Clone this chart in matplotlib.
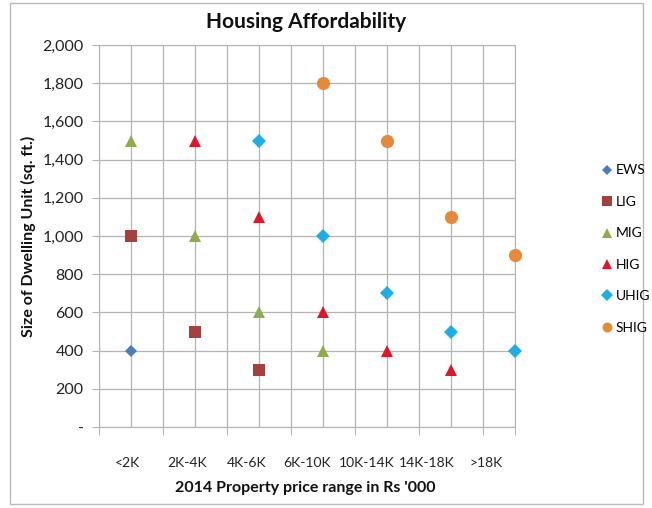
import matplotlib
matplotlib.use("Agg")
import matplotlib.pyplot as plt
from matplotlib.patches import Rectangle
import numpy as np

plt.rcParams['font.family'] = ['Lato', 'DejaVu Sans']

categories = ['<2K', '2K-4K', '4K-6K', '6K-10K', '10K-14K', '14K-18K', '>18K']
series_names = ['EWS', 'LIG', 'MIG', 'HIG', 'UHIG', 'SHIG']
EWS = [400, None, None, None, None, None, None]
LIG = [1000, 500, 300, None, None, None, None]
MIG = [1500, 1000, 600, 400, None, None, None]
HIG = [None, 1500, 1100, 600, 400, 300, None]
UHIG = [None, None, 1500, 1000, 700, 500, 400]
SHIG = [None, None, None, 1800, 1500, 1100, 900]
yticks = [0, 200, 400, 600, 800, 1000, 1200, 1400, 1600, 1800, 2000]
ytick_labels = ['-', '200', '400', '600', '800', '1,000', '1,200', '1,400', '1,600', '1,800', '2,000']

series = [EWS, LIG, MIG, HIG, UHIG, SHIG]
styles = [
    dict(marker='D', color='#4A7EBB', ms=6.5),
    dict(marker='s', color='#A5403C', ms=9),
    dict(marker='^', color='#8DAE4B', ms=9),
    dict(marker='^', color='#E0162B', ms=9),
    dict(marker='D', color='#1CAEE4', ms=7.5),
    dict(marker='o', color='#E8893A', ms=9.5),
]

fig = plt.figure(figsize=(6.52, 5.08), dpi=100)
ax = fig.add_axes([99/652, 1-427/508, (515-99)/652, (427-45)/508])

grid_c = '#B4B4B4'
for name, vals, st in zip(series_names, series, styles):
    xs = [i + 0.5 for i, v in enumerate(vals) if v is not None]
    ys = [v for v in vals if v is not None]
    ax.plot(xs, ys, linestyle='none', marker=st['marker'], color=st['color'],
            markersize=st['ms'], markeredgewidth=0, label=name, zorder=3, clip_on=False)

ax.set_xlim(0, 6.5)
ax.set_ylim(0, 2000)
ax.set_xticks(np.arange(0, 7, 1.0).tolist() + [6.5])
ax.set_xticks(np.arange(0.5, 6.5, 1.0), minor=True)
ax.set_xticklabels([])
ax.set_yticks(yticks)
ax.set_yticklabels(ytick_labels, fontsize=11.5, color='#222222')
ax.grid(True, which='both', axis='x', color=grid_c, linewidth=0.9)
ax.grid(True, which='major', axis='y', color=grid_c, linewidth=0.9)
ax.tick_params(axis='x', which='major', length=6, color=grid_c, direction='out')
ax.tick_params(axis='x', which='minor', length=0)
ax.tick_params(axis='y', length=5, color=grid_c, pad=6)
for s in ax.spines.values():
    s.set_color(grid_c)
ax.set_axisbelow(True)

# category labels row
for i, c in enumerate(categories):
    ax.text(0.44 + 0.935 * i, -0.095, c, transform=ax.get_xaxis_transform(),
            ha='center', va='center', fontsize=10, color='#222222')

fig.text(305/652, 1-488/508, "2014 Property price range in Rs '000", ha='center', va='center',
         fontsize=11.5, fontweight='bold', color='#111111')
fig.text(28/652, 1-236/508, 'Size of Dwelling Unit (sq. ft.)', rotation=90, ha='center', va='center',
         fontsize=11.5, fontweight='bold', color='#111111')
fig.text(306/652, 1-22/508, 'Housing Affordability', ha='center', va='center',
         fontsize=15, fontweight='bold', color='#111111')

handles, labels = ax.get_legend_handles_labels()
leg = fig.legend(handles, labels, loc='upper left', bbox_to_anchor=(588/652, 1-152/508),
                 frameon=False, fontsize=10, handletextpad=0.1, handlelength=1.0,
                 labelspacing=1.4, markerscale=0.75)

fig.patches.append(Rectangle((10/652, 4/508), 633/652, 501/508, transform=fig.transFigure,
                             fill=False, edgecolor='#BBBBBB', linewidth=1))

fig.savefig('out.png', dpi=100)
